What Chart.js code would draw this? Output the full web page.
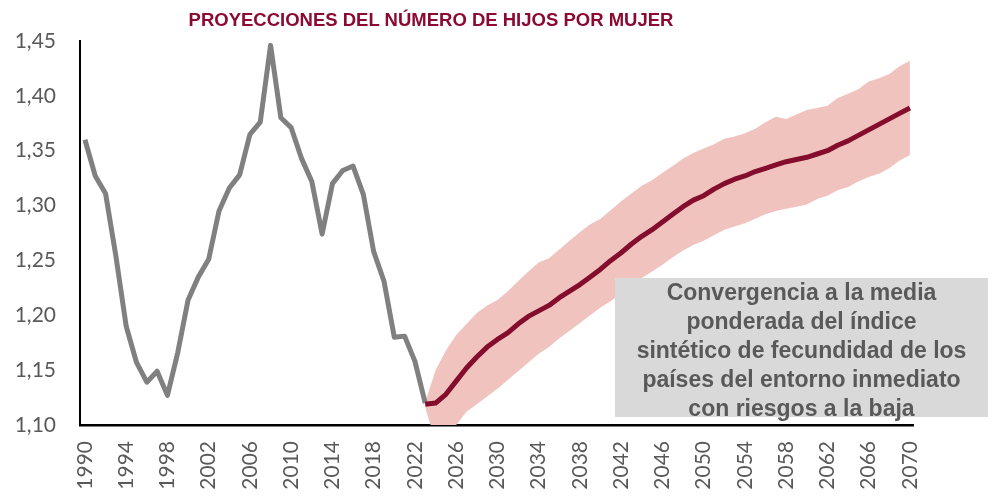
<!DOCTYPE html>
<html>
<head>
<meta charset="utf-8">
<script src="https://cdn.jsdelivr.net/npm/chart.js@4"></script>
<style>
    body { margin: 0; background: #fff; }
    .wrap { position: relative; width: 993px; height: 496px; }
    .chart-title {
        position: absolute; left: 0; top: 11px; width: 862px;
        text-align: center; font: bold 18.5px "Liberation Sans", Arial, sans-serif;
        line-height: 1; color: #8c0a32;
    }
    .note {
        position: absolute; left: 615px; top: 278px; width: 373px; height: 139px;
        background: #d9d9d9; color: #595959; text-align: center;
        font: bold 23px "Liberation Sans", Arial, sans-serif; line-height: 29px;
    }
</style>
</head>
<body>
<div class="wrap">
    <canvas id="fertilityChart" width="993" height="496"></canvas>
    <div class="chart-title">PROYECCIONES DEL NÚMERO DE HIJOS POR MUJER</div>
    <div class="note">Convergencia a la media<br>ponderada del índice<br>sintético de fecundidad de los<br>países del entorno inmediato<br>con riesgos a la baja</div>
</div>
<script>
// Historical series 1990-2023
const histStart = 1990;
const histValues = [1.360, 1.327, 1.311, 1.254, 1.190, 1.157, 1.139, 1.149, 1.127, 1.166,
    1.214, 1.235, 1.251, 1.295, 1.316, 1.328, 1.365, 1.376, 1.446, 1.380,
    1.371, 1.343, 1.322, 1.274, 1.320, 1.332, 1.336, 1.310, 1.258, 1.231,
    1.180, 1.181, 1.158, 1.120];

// Projection 2023-2070 (central, upper and lower bounds)
const projStart = 2023;
const projCentral = [1.119, 1.120, 1.128, 1.140, 1.152, 1.162, 1.171, 1.178, 1.184, 1.192,
    1.199, 1.204, 1.209, 1.216, 1.222, 1.228, 1.235, 1.242, 1.250, 1.257,
    1.265, 1.272, 1.278, 1.285, 1.292, 1.299, 1.305, 1.309, 1.315, 1.320,
    1.324, 1.327, 1.331, 1.334, 1.337, 1.340, 1.342, 1.344, 1.347, 1.350,
    1.355, 1.359, 1.364, 1.369, 1.374, 1.379, 1.384, 1.389];
const projUpper = [1.121, 1.150, 1.168, 1.182, 1.192, 1.202, 1.209, 1.214, 1.222, 1.231,
    1.240, 1.248, 1.252, 1.260, 1.268, 1.276, 1.283, 1.288, 1.296, 1.304,
    1.311, 1.318, 1.323, 1.330, 1.336, 1.343, 1.348, 1.352, 1.356, 1.361,
    1.363, 1.366, 1.370, 1.376, 1.381, 1.379, 1.383, 1.387, 1.389, 1.391,
    1.398, 1.402, 1.406, 1.413, 1.416, 1.420, 1.427, 1.432];
const projLower = [1.116, 1.085, 1.092, 1.100, 1.112, 1.119, 1.126, 1.133, 1.141, 1.149,
    1.157, 1.165, 1.171, 1.179, 1.186, 1.193, 1.200, 1.207, 1.213, 1.220,
    1.228, 1.234, 1.240, 1.246, 1.253, 1.259, 1.264, 1.268, 1.273, 1.278,
    1.281, 1.284, 1.288, 1.292, 1.295, 1.297, 1.299, 1.301, 1.306, 1.309,
    1.314, 1.317, 1.322, 1.326, 1.329, 1.334, 1.341, 1.346];

// Axis tick labels
const xTickYears = [1990, 1994, 1998, 2002, 2006, 2010, 2014, 2018, 2022, 2026, 2030,
    2034, 2038, 2042, 2046, 2050, 2054, 2058, 2062, 2066, 2070];
const yTicks = [1.10, 1.15, 1.20, 1.25, 1.30, 1.35, 1.40, 1.45];

function toPoints(start, values) {
    return values.map((v, i) => ({ x: start + i, y: v }));
}

const tickFont = { family: 'Lato, "Open Sans", sans-serif', size: 21 };

new Chart(document.getElementById('fertilityChart'), {
    type: 'line',
    data: {
        datasets: [
            {
                label: 'Proyección',
                data: toPoints(projStart, projCentral),
                borderColor: '#840c2c',
                borderWidth: 5,
                pointRadius: 0,
                tension: 0,
                borderJoinStyle: 'round',
                fill: false
            },
            {
                label: 'Histórico',
                data: toPoints(histStart, histValues),
                borderColor: '#808080',
                borderWidth: 5,
                pointRadius: 0,
                tension: 0,
                borderJoinStyle: 'round',
                fill: false
            },
            {
                label: 'Superior',
                data: toPoints(projStart, projUpper),
                borderWidth: 0,
                borderColor: 'rgba(0,0,0,0)',
                backgroundColor: '#f0c3be',
                pointRadius: 0,
                tension: 0,
                fill: '+1'
            },
            {
                label: 'Inferior',
                data: toPoints(projStart, projLower),
                borderWidth: 0,
                borderColor: 'rgba(0,0,0,0)',
                pointRadius: 0,
                tension: 0,
                fill: false
            }
        ]
    },
    options: {
        responsive: false,
        animation: false,
        layout: { padding: { left: 0, right: 80, top: 41, bottom: 0 } },
        plugins: {
            legend: { display: false },
            tooltip: { enabled: false }
        },
        scales: {
            x: {
                type: 'linear',
                min: 1989.52,
                max: 2070.3,
                grid: { display: false, drawTicks: false },
                border: { display: true, color: '#000', width: 2.5 },
                afterBuildTicks: function (axis) {
                    axis.ticks = xTickYears.map(v => ({ value: v }));
                },
                afterFit: function (axis) { axis.height = 71; },
                ticks: {
                    autoSkip: false,
                    minRotation: 90,
                    maxRotation: 90,
                    padding: 16,
                    color: '#595959',
                    font: tickFont,
                    callback: function (value) { return String(value); }
                }
            },
            y: {
                min: 1.10,
                max: 1.45,
                grid: { display: false, drawTicks: false },
                border: { display: true, color: '#000', width: 2 },
                afterBuildTicks: function (axis) {
                    axis.ticks = yTicks.map(v => ({ value: v }));
                },
                afterFit: function (axis) { axis.width = 80; },
                ticks: {
                    padding: 24,
                    color: '#595959',
                    font: tickFont,
                    callback: function (value) { return value.toFixed(2).replace('.', ','); }
                }
            }
        }
    }
});
</script>
</body>
</html>
